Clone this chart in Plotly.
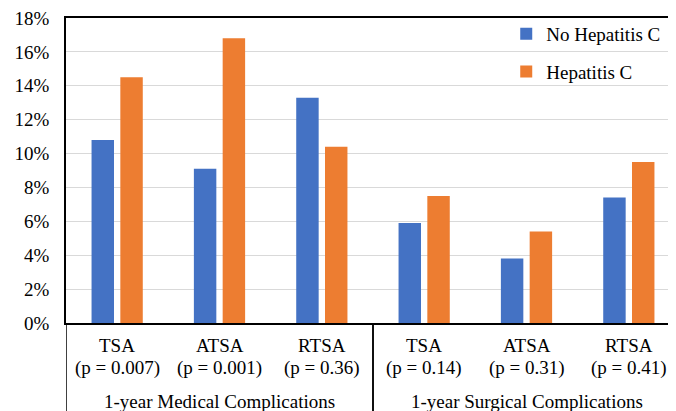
import plotly.graph_objects as go

group_names = ["1-year Medical Complications", "1-year Surgical Complications"]
groups = [group_names[0]] * 3 + [group_names[1]] * 3
proc_names = ["TSA", "ATSA", "RTSA", "TSA", "ATSA", "RTSA"]
p_labels = ["(p = 0.007)", "(p = 0.001)", "(p = 0.36)", "(p = 0.14)", "(p = 0.31)", "(p = 0.41)"]
no_hcv = [10.8, 9.1, 13.3, 5.9, 3.8, 7.4]
hcv = [14.5, 16.8, 10.4, 7.5, 5.4, 9.5]

FONT = "Liberation Serif"
BLACK = "#000000"
categories = [f"{g}|{n} {p}" for g, n, p in zip(groups, proc_names, p_labels)]

fig = go.Figure()
fig.add_trace(go.Bar(x=categories, y=no_hcv, name="No Hepatitis C",
                     marker=dict(color="#4472C4", line=dict(width=0)), legendgroup="a"))
fig.add_trace(go.Bar(x=categories, y=hcv, name="Hepatitis C",
                     marker=dict(color="#ED7D31", line=dict(width=0)), legendgroup="b"))

annotations = []
for c, n, p in zip(categories, proc_names, p_labels):
    annotations.append(dict(x=c, xref="x", y=0, yref="paper", text=n, showarrow=False,
                            yanchor="middle", yshift=-22, font=dict(family=FONT, size=19, color=BLACK)))
    annotations.append(dict(x=c, xref="x", y=0, yref="paper", text=p, showarrow=False,
                            yanchor="middle", yshift=-45, font=dict(family=FONT, size=19, color=BLACK)))

shapes = []
for gname in group_names:
    idx = [i for i, g in enumerate(groups) if g == gname]
    center = (idx[0] + idx[-1]) / 2
    annotations.append(dict(x=center, xref="x", y=0, yref="paper", text=gname, showarrow=False,
                            yanchor="middle", yshift=-78, font=dict(family=FONT, size=19, color=BLACK)))
    for b in (idx[0] - 0.5, idx[-1] + 0.5):
        shapes.append(dict(type="line", xref="x", yref="paper", x0=b, x1=b, y0=0, y1=-0.4,
                           line=dict(color=BLACK, width=1.5)))

fig.update_layout(
    width=676, height=411,
    margin=dict(l=58, r=3.5, t=10, b=96),
    paper_bgcolor="white", plot_bgcolor="white",
    font=dict(family=FONT, size=19, color=BLACK),
    barmode="group", bargap=0.4375, bargroupgap=0.22,
    legend=dict(x=0.717, y=1.0098, xanchor="left", yanchor="top",
                bgcolor="rgba(0,0,0,0)", traceorder="grouped", tracegroupgap=10,
                font=dict(family=FONT, size=19, color=BLACK)),
    xaxis=dict(type="category", range=[-0.5, 5.5], showticklabels=False,
               showline=True, linecolor=BLACK, linewidth=1.5, mirror=True,
               ticks="", automargin=False, showgrid=False),
    yaxis=dict(range=[0, 18], dtick=2, ticksuffix="%", showgrid=True,
               gridcolor="#D9D9D9", gridwidth=1.2, showline=True, linecolor=BLACK,
               linewidth=1.5, ticks="", ticklabelstandoff=11, zeroline=False,
               ticklabeloverflow="allow",
               automargin=False, tickfont=dict(family=FONT, size=19, color=BLACK)),
    annotations=annotations,
    shapes=shapes,
)
fig.write_html("out.html")
